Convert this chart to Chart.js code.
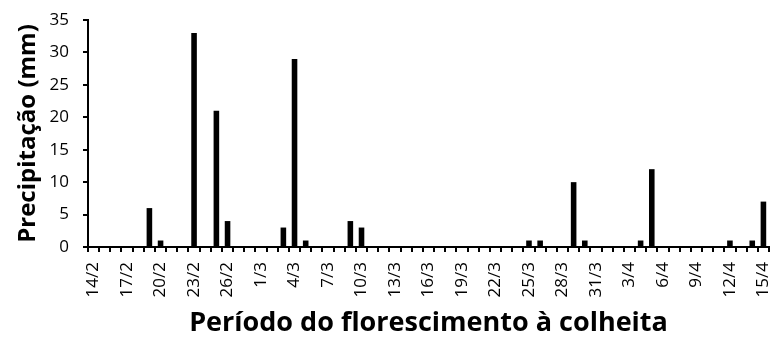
<!DOCTYPE html>
<html>
<head>
<meta charset="utf-8">
<script src="https://cdn.jsdelivr.net/npm/chart.js@4/dist/chart.umd.min.js"></script>
<style>
  html, body { margin: 0; padding: 0; background: #fff; }
  #wrap { width: 775px; height: 340px; }
</style>
</head>
<body>
<div id="wrap"><canvas id="c" width="775" height="340"></canvas></div>
<script>
// Daily days from 14/2 to 15/4
const days = [
  '14/2','15/2','16/2','17/2','18/2','19/2','20/2','21/2','22/2','23/2','24/2','25/2','26/2','27/2','28/2',
  '1/3','2/3','3/3','4/3','5/3','6/3','7/3','8/3','9/3','10/3','11/3','12/3','13/3','14/3','15/3','16/3',
  '17/3','18/3','19/3','20/3','21/3','22/3','23/3','24/3','25/3','26/3','27/3','28/3','29/3','30/3','31/3',
  '1/4','2/4','3/4','4/4','5/4','6/4','7/4','8/4','9/4','10/4','11/4','12/4','13/4','14/4','15/4'
];

// Daily rainfall (mm)
const rainfall = [
  0,0,0,0,0,6,1,0,0,33,0,21,4,0,0,
  0,0,3,29,1,0,0,0,4,3,0,0,0,0,0,0,
  0,0,0,0,0,0,0,0,1,1,0,0,10,1,0,
  0,0,0,1,12,0,0,0,0,0,0,1,0,1,7
];

// Only every third day gets a label
const labelStep = 3;

const yTicks = [0, 5, 10, 15, 20, 25, 30, 35];

const tickFont = { family: 'Open Sans', size: 17 };
const xTitleFont = { family: 'Open Sans', size: 27, weight: 'bold' };
const yTitleFont = { family: 'Open Sans', size: 24, weight: 'bold' };

new Chart(document.getElementById('c'), {
  type: 'bar',
  data: {
    labels: days,
    datasets: [{
      data: rainfall,
      backgroundColor: '#000',
      borderWidth: 0,
      barPercentage: 0.5,
      categoryPercentage: 1.0
    }]
  },
  options: {
    responsive: false,
    animation: false,
    devicePixelRatio: 1,
    layout: { padding: { top: 20, right: 6, left: 0, bottom: 0 } },
    plugins: { legend: { display: false }, tooltip: { enabled: false } },
    scales: {
      x: {
        offset: true,
        grid: {
          offset: true,
          drawOnChartArea: false,
          drawTicks: true,
          tickLength: 5,
          color: '#000',
          lineWidth: 2
        },
        border: { display: true, color: '#000', width: 2 },
        ticks: {
          autoSkip: false,
          minRotation: 90,
          maxRotation: 90,
          padding: 10,
          color: '#000',
          font: tickFont,
          callback: function (value, index) {
            return index % labelStep === 0 ? days[index] : '';
          }
        },
        title: {
          display: true,
          text: 'Período do florescimento à colheita',
          color: '#000',
          font: xTitleFont,
          padding: { top: 0, bottom: 0 }
        },
        afterFit: function (scale) {
          scale.height = 93;
          scale.paddingLeft = 0;
          scale.paddingRight = 0;
        }
      },
      y: {
        min: 0,
        max: 35,
        afterBuildTicks: function (scale) {
          scale.ticks = yTicks.map(v => ({ value: v }));
        },
        grid: {
          drawOnChartArea: false,
          drawTicks: true,
          tickLength: 5,
          color: '#000',
          lineWidth: 2
        },
        border: { display: true, color: '#000', width: 2 },
        ticks: {
          padding: 14,
          color: '#000',
          font: tickFont
        },
        title: {
          display: true,
          text: 'Precipitação (mm)',
          color: '#000',
          font: yTitleFont,
          padding: { top: 14, bottom: 0 }
        },
        afterFit: function (scale) {
          scale.width = 88;
          scale.paddingTop = 0;
          scale.paddingBottom = 0;
        }
      }
    }
  }
});
</script>
</body>
</html>
